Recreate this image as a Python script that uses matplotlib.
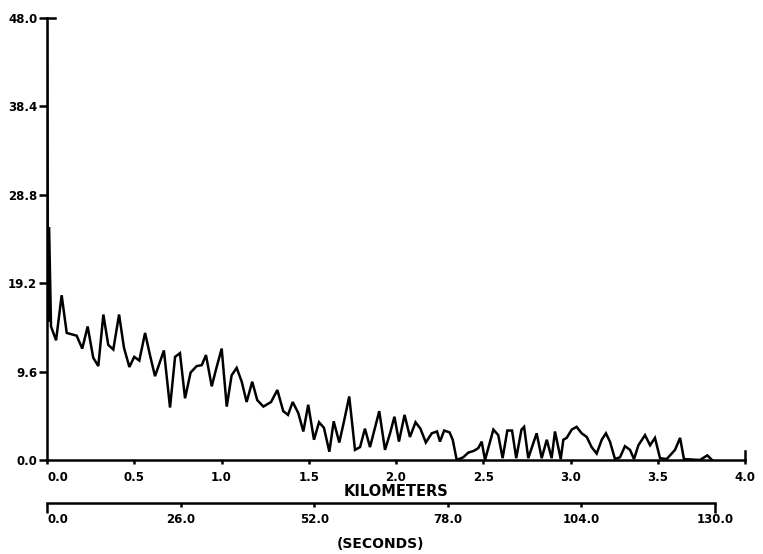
import numpy as np
import matplotlib
matplotlib.use('Agg')
import matplotlib.pyplot as plt
from matplotlib.ticker import FormatStrFormatter

km = [0.0, 0.006, 0.012, 0.023, 0.052, 0.084, 0.113, 0.170, 0.202, 0.233, 0.265, 0.294,
      0.323, 0.351, 0.380, 0.413, 0.441, 0.472, 0.500, 0.529, 0.562, 0.590, 0.619, 0.648,
      0.670, 0.705, 0.734, 0.762, 0.791, 0.823, 0.858, 0.887, 0.911, 0.944, 0.968, 1.001,
      1.030, 1.058, 1.087, 1.116, 1.144, 1.176, 1.205, 1.240, 1.284, 1.320, 1.354, 1.381,
      1.408, 1.440, 1.469, 1.497, 1.530, 1.559, 1.587, 1.618, 1.643, 1.675, 1.702, 1.732,
      1.765, 1.794, 1.822, 1.851, 1.904, 1.937, 1.966, 1.991, 2.017, 2.049, 2.080, 2.112,
      2.140, 2.171, 2.205, 2.235, 2.252, 2.276, 2.307, 2.325, 2.348, 2.386, 2.414, 2.447,
      2.472, 2.491, 2.510, 2.539, 2.558, 2.586, 2.611, 2.638, 2.665, 2.689, 2.719, 2.734,
      2.758, 2.806, 2.835, 2.864, 2.892, 2.911, 2.944, 2.959, 2.978, 3.007, 3.035, 3.064,
      3.093, 3.121, 3.150, 3.179, 3.203, 3.226, 3.255, 3.284, 3.312, 3.341, 3.364, 3.389,
      3.427, 3.456, 3.484, 3.513, 3.551, 3.599, 3.628, 3.650, 3.742, 3.784, 3.811]
value = [47.5, 15.0, 25.3, 14.5, 13.0, 17.9, 13.8, 13.5, 12.1, 14.5, 11.1, 10.2,
         15.8, 12.5, 12.0, 15.8, 12.2, 10.1, 11.2, 10.8, 13.8, 11.4, 9.1, 10.7,
         11.9, 5.7, 11.2, 11.6, 6.7, 9.5, 10.2, 10.3, 11.4, 8.0, 9.8, 12.1,
         5.8, 9.2, 10.0, 8.5, 6.3, 8.5, 6.5, 5.8, 6.3, 7.6, 5.3, 4.9,
         6.3, 5.1, 3.1, 6.0, 2.2, 4.1, 3.5, 0.9, 4.2, 1.9, 4.2, 6.9,
         1.1, 1.4, 3.4, 1.4, 5.3, 1.1, 2.9, 4.7, 2.0, 4.9, 2.5, 4.1,
         3.4, 1.9, 2.9, 3.1, 2.0, 3.2, 3.0, 2.2, 0.0, 0.3, 0.8, 1.0,
         1.3, 2.0, 0.0, 2.0, 3.3, 2.7, 0.2, 3.2, 3.2, 0.2, 3.3, 3.6,
         0.2, 2.9, 0.2, 2.2, 0.2, 3.1, 0.1, 2.2, 2.4, 3.3, 3.6, 2.9,
         2.5, 1.4, 0.7, 2.2, 2.9, 2.0, 0.1, 0.3, 1.5, 1.1, 0.1, 1.6,
         2.7, 1.6, 2.4, 0.2, 0.1, 1.1, 2.4, 0.1, 0.0, 0.5, 0.0]

y_ticks = [0.0, 9.6, 19.2, 28.8, 38.4, 48.0]
km_ticks = [0.0, 0.5, 1.0, 1.5, 2.0, 2.5, 3.0, 3.5, 4.0]
sec_ticks = [0.0, 26.0, 52.0, 78.0, 104.0, 130.0]

plt.rcParams['font.family'] = 'DejaVu Sans'
plt.rcParams['font.weight'] = 'bold'

fig = plt.figure(figsize=(7.63, 5.54), dpi=100)
W, H = 763.0, 554.0

# main plot: axis origin at (47, 460) px, top at 18 px, right end at 745 px
ax = fig.add_axes([47 / W, 1 - 460 / H, 698 / W, 442 / H])
ax.plot(km, value, color='black', lw=1.8, solid_joinstyle='miter')
ax.set_xlim(0, 4.0)
ax.set_ylim(0, 48.0)
for s in ['top', 'right']:
    ax.spines[s].set_visible(False)
for s in ['left', 'bottom']:
    ax.spines[s].set_linewidth(1.8)
ax.set_yticks(y_ticks)
ax.set_xticks(km_ticks)
ax.yaxis.set_major_formatter(FormatStrFormatter('%.1f'))
ax.xaxis.set_major_formatter(FormatStrFormatter('%.1f'))
ax.tick_params(axis='y', direction='out', length=6, width=1.8, pad=1, labelsize=8.5)
ax.tick_params(axis='x', direction='out', length=3, width=1.8, pad=5, labelsize=8.5)
ax.get_xticklabels()[0].set_ha('left')
# inward end marks of the axes
ax.axvline(4.0, ymin=0, ymax=0.02, color='black', lw=1.8, clip_on=False)
ax.axhline(48.0, xmin=0, xmax=0.012, color='black', lw=1.8, clip_on=False)
ax.set_xlabel('KILOMETERS', fontsize=10.5, fontweight='bold', labelpad=0)

# time axis below: 0 s at 47 px, 130 s at 715 px, line at y = 503 px
ax2 = fig.add_axes([47 / W, 1 - 503 / H, 668 / W, 0.0001])
ax2.set_xlim(0, 130.0)
ax2.set_yticks([])
for s in ['top', 'right', 'left']:
    ax2.spines[s].set_visible(False)
ax2.spines['bottom'].set_linewidth(1.8)
ax2.patch.set_visible(False)
ax2.set_xticks([sec_ticks[0], sec_ticks[-1]])
ax2.set_xticks(sec_ticks[1:-1], minor=True)
ax2.set_xticklabels(['%.1f' % t for t in [sec_ticks[0], sec_ticks[-1]]])
ax2.set_xticklabels(['%.1f' % t for t in sec_ticks[1:-1]], minor=True)
ax2.tick_params(axis='x', which='major', direction='out', length=7, width=1.8, pad=0, labelsize=8.5)
ax2.tick_params(axis='x', which='minor', direction='out', length=3, width=1.8, pad=4, labelsize=8.5)
ax2.get_xticklabels()[0].set_ha('left')
ax2.set_xlabel('(SECONDS)', fontsize=10, fontweight='bold', labelpad=8)

plt.savefig('out.png', dpi=100)
